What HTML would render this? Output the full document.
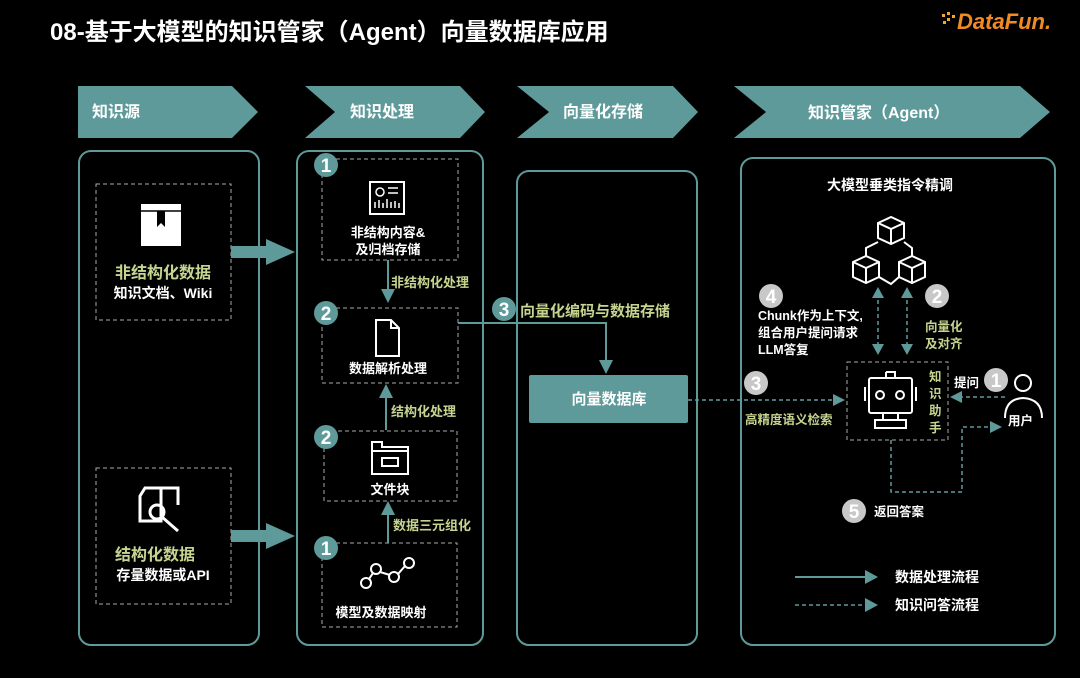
<!DOCTYPE html>
<html><head><meta charset="utf-8"><style>
html,body{margin:0;padding:0;background:#000;}
svg{display:block;}
text{font-family:"Liberation Sans","Noto Sans CJK SC",sans-serif;font-weight:bold;}
</style></head><body>
<svg width="1080" height="678" viewBox="0 0 1080 678" xmlns="http://www.w3.org/2000/svg">
<defs>
<marker id="ahb" markerWidth="14" markerHeight="14" refX="12" refY="7" orient="auto" markerUnits="userSpaceOnUse"><path d="M0,0 L14,7 L0,14 z" fill="#5f9a9a"/></marker>
</defs>
<rect width="1080" height="678" fill="#000"/>
<text x="50" y="40" font-size="24" fill="#fff">08-基于大模型的知识管家（Agent）向量数据库应用</text>
<g fill="#f5a623"><rect x="942" y="14" width="3" height="3"/><rect x="947" y="12" width="3" height="3"/><rect x="947" y="18" width="3" height="3"/><rect x="952" y="15" width="3" height="3"/><rect x="943" y="21" width="3" height="3"/></g>
<text x="957" y="29" font-size="22" font-style="italic" fill="#f08a24">DataFun.</text>

<g fill="#5f9a9a">
<path d="M78,86 L232,86 L258,112 L232,138 L78,138 z"/>
<path d="M305,86 L460,86 L485,112 L460,138 L305,138 L335,112 z"/>
<path d="M517,86 L673,86 L698,112 L673,138 L517,138 L549,112 z"/>
<path d="M734,86 L1020,86 L1050,112 L1020,138 L734,138 L766,112 z"/>
</g>
<g fill="#fff" font-size="16">
<text x="92" y="117">知识源</text>
<text x="350" y="117">知识处理</text>
<text x="563" y="117">向量化存储</text>
<text x="808" y="118">知识管家（Agent）</text>
</g>

<g fill="none" stroke="#5f9a9a" stroke-width="2">
<rect x="79" y="151" width="180" height="494" rx="12"/>
<rect x="297" y="151" width="186" height="494" rx="12"/>
<rect x="517" y="171" width="180" height="474" rx="12"/>
<rect x="741" y="158" width="314" height="487" rx="12"/>
</g>

<g fill="none" stroke="#aaa" stroke-width="1" stroke-dasharray="4,3">
<rect x="96" y="184" width="135" height="136"/>
<rect x="96" y="468" width="135" height="136"/>
<rect x="322" y="159" width="136" height="101"/>
<rect x="322" y="308" width="136" height="75"/>
<rect x="324" y="431" width="133" height="70"/>
<rect x="322" y="543" width="135" height="84"/>
<rect x="847" y="362" width="101" height="78"/>
</g>

<path d="M141,204 L181,204 L181,246 L141,246 z" fill="#fff"/>
<path d="M141,211 L181,211" stroke="#000" stroke-width="1.5"/>
<path d="M157,211 L157,227 L161,223 L165,227 L165,211" fill="#000"/>
<text x="163" y="278" font-size="16" fill="#c5d48f" text-anchor="middle">非结构化数据</text>
<text x="163" y="298" font-size="14" fill="#fff" text-anchor="middle" font-weight="normal">知识文档、Wiki</text>
<path d="M140,496 L145,488 L161,488 L161,521 L140,521 z M161,488 L178,488 L178,505" fill="none" stroke="#fff" stroke-width="3"/>
<circle cx="157" cy="512" r="7" fill="none" stroke="#fff" stroke-width="3"/>
<path d="M162,517 L178,531" stroke="#fff" stroke-width="3"/>
<text x="155" y="560" font-size="16" fill="#c5d48f" text-anchor="middle">结构化数据</text>
<text x="163" y="580" font-size="14" fill="#fff" text-anchor="middle" font-weight="normal">存量数据或API</text>
<path d="M231,252 L268,252" stroke="#5f9a9a" stroke-width="12"/><path d="M266,239 L295,252 L266,265 z" fill="#5f9a9a"/>
<path d="M231,536 L268,536" stroke="#5f9a9a" stroke-width="12"/><path d="M266,523 L295,536 L266,549 z" fill="#5f9a9a"/>

<g font-size="19" fill="#fff" text-anchor="middle">
<circle cx="326" cy="165" r="12" fill="#5f9a9a"/><text x="326" y="172">1</text>
<circle cx="326" cy="313" r="12" fill="#5f9a9a"/><text x="326" y="320">2</text>
<circle cx="326" cy="437" r="12" fill="#5f9a9a"/><text x="326" y="444">2</text>
<circle cx="326" cy="548" r="12" fill="#5f9a9a"/><text x="326" y="555">1</text>
</g>
<rect x="370" y="182" width="34" height="32" fill="none" stroke="#fff" stroke-width="2"/>
<circle cx="380" cy="192" r="4" fill="none" stroke="#fff" stroke-width="1.5"/>
<path d="M388,188 h10 M388,193 h10 M375,208 v-6 M379,208 v-8 M383,208 v-5 M387,208 v-9 M391,208 v-6 M395,208 v-7 M399,208 v-5" stroke="#fff" stroke-width="1.5"/>
<g font-size="13" fill="#fff" text-anchor="middle" font-weight="normal">
<text x="388" y="237">非结构内容&amp;</text>
<text x="388" y="254">及归档存储</text>
<text x="388" y="373">数据解析处理</text>
<text x="390" y="494">文件块</text>
<text x="381" y="617">模型及数据映射</text>
</g>
<path d="M376,320 L391,320 L399,328 L399,356 L376,356 z M391,320 L391,328 L399,328" fill="none" stroke="#fff" stroke-width="2"/>
<path d="M372,442 L382,442 L382,447 L408,447 L408,474 L372,474 z M372,451 L408,451" fill="none" stroke="#fff" stroke-width="2"/>
<rect x="382" y="458" width="16" height="8" fill="none" stroke="#fff" stroke-width="2"/>
<g fill="none" stroke="#fff" stroke-width="2"><circle cx="366" cy="583" r="5"/><circle cx="376" cy="569" r="5"/><circle cx="394" cy="577" r="5"/><circle cx="409" cy="563" r="5"/>
<path d="M369,579 L373,573 M380,572 L390,575 M398,574 L405,566"/></g>
<g stroke="#5f9a9a" stroke-width="2" fill="none">
<path d="M388,260 L388,301" marker-end="url(#ahb)"/>
<path d="M386,430 L386,386" marker-end="url(#ahb)"/>
<path d="M388,543 L388,503" marker-end="url(#ahb)"/>
<path d="M458,323 L606,323 L606,372" marker-end="url(#ahb)"/>
</g>
<g font-size="13" fill="#c5d48f">
<text x="391" y="287">非结构化处理</text>
<text x="391" y="416">结构化处理</text>
<text x="393" y="530">数据三元组化</text>
<text x="520" y="316" font-size="15">向量化编码与数据存储</text>
</g>
<circle cx="504" cy="309" r="12" fill="#5f9a9a"/><text x="504" y="316" font-size="19" fill="#fff" text-anchor="middle">3</text>
<rect x="529" y="375" width="159" height="48" rx="2" fill="#5f9a9a"/>
<text x="609" y="404" font-size="15" fill="#fff" text-anchor="middle">向量数据库</text>

<g fill="none" stroke="#5f9a9a" stroke-width="1.5" stroke-dasharray="4,3">
<path d="M688,400 L834,400"/>
<path d="M878,300 L878,352"/><path d="M907,300 L907,352"/>
<path d="M1005,397 L955,397"/>
<path d="M891,440 L891,492 L962,492 L962,427 L995,427"/>
<path d="M795,605 L870,605"/>
</g>
<g fill="#5f9a9a">
<path d="M872,298 L878,287 L884,298 z"/><path d="M901,298 L907,287 L913,298 z"/>
<path d="M872,344 L878,355 L884,344 z"/><path d="M901,344 L907,355 L913,344 z"/>
<path d="M950,397 L962,391 L962,403 z"/>
<path d="M990,421 L1002,427 L990,433 z"/>
<path d="M833,394 L845,400 L833,406 z"/>
<path d="M865,598 L878,605 L865,612 z"/>
</g>
<path d="M795,577 L870,577" stroke="#5f9a9a" stroke-width="2"/><path d="M865,570 L878,577 L865,584 z" fill="#5f9a9a"/>
<text x="890" y="190" font-size="14" fill="#fff" text-anchor="middle">大模型垂类指令精调</text>
<g fill="none" stroke="#fff" stroke-width="2">
<path d="M878,223 L891,217 L904,223 L904,238 L891,244 L878,238 z M878,223 L891,229 L904,223 M891,229 L891,244"/>
<path d="M853,262 L866,256 L879,262 L879,277 L866,283 L853,277 z M853,262 L866,268 L879,262 M866,268 L866,283"/>
<path d="M899,262 L912,256 L925,262 L925,277 L912,283 L899,277 z M899,262 L912,268 L925,262 M912,268 L912,283"/>
<path d="M866,256 L866,248 L878,242 M912,256 L912,248 L904,242 M879,277 L891,284 L899,277"/>
</g>
<g font-size="19" fill="#fff" text-anchor="middle">
<circle cx="771" cy="296" r="12" fill="#c8c8c8"/><text x="771" y="303">4</text>
<circle cx="937" cy="296" r="12" fill="#c8c8c8"/><text x="937" y="303">2</text>
<circle cx="756" cy="383" r="12" fill="#c8c8c8"/><text x="756" y="390">3</text>
<circle cx="996" cy="380" r="12" fill="#c8c8c8"/><text x="996" y="387">1</text>
<circle cx="854" cy="511" r="12" fill="#c8c8c8"/><text x="854" y="518">5</text>
</g>
<g font-size="12.5" fill="#fff">
<text x="758" y="320">Chunk作为上下文,</text>
<text x="758" y="337">组合用户提问请求</text>
<text x="758" y="354">LLM答复</text>
<text x="954" y="387">提问</text>
<text x="1008" y="425">用户</text>
<text x="874" y="516">返回答案</text>
</g>
<g font-size="12.5" fill="#c5d48f">
<text x="925" y="331">向量化</text>
<text x="925" y="348">及对齐</text>
<text x="745" y="424">高精度语义检索</text>
<text x="929" y="381">知</text><text x="929" y="398">识</text><text x="929" y="415">助</text><text x="929" y="432">手</text>
</g>
<g fill="none" stroke="#fff" stroke-width="2">
<rect x="869" y="378" width="43" height="35" rx="2"/>
<path d="M886,372 h9 v6 M886,372 v6 M865,387 v14 M916,387 v14 M883,413 v7 M898,413 v7 M875,420 h31 v8 h-31 z"/>
<circle cx="880" cy="395" r="4"/><circle cx="900" cy="395" r="4"/>
<circle cx="1023" cy="383" r="8"/>
<path d="M1005,418 Q1005,399 1023,398 Q1042,399 1042,418"/>
</g>
<g font-size="14" fill="#fff">
<text x="895" y="582">数据处理流程</text>
<text x="895" y="610">知识问答流程</text>
</g>
</svg>
</body></html>
